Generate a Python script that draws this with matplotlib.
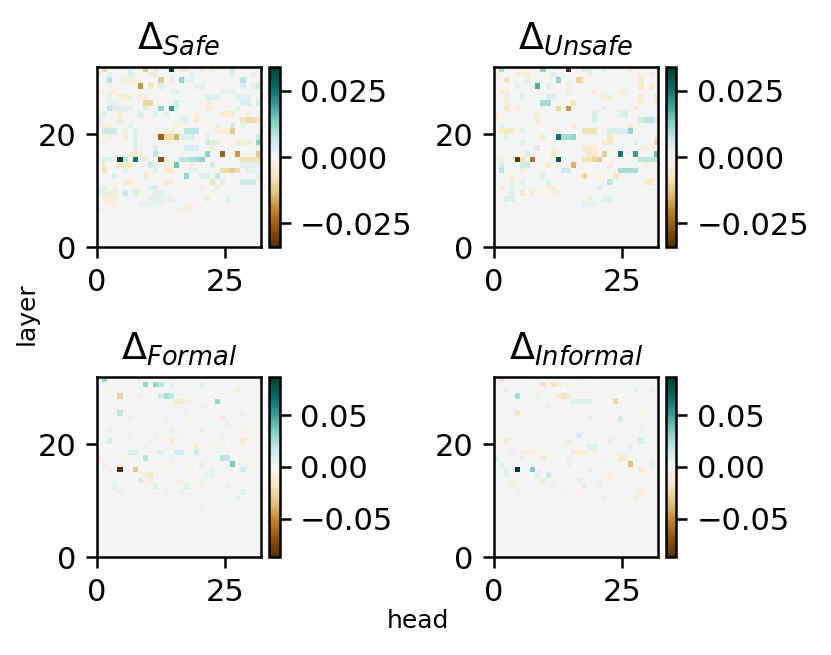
import numpy as np
import matplotlib.pyplot as plt

n_layers = 32
n_heads = 32

# cells: (layer, head, value); everything not listed is ~0
safe_cells = [
    (31, 1, -0.010), (31, 6, 0.003), (31, 9, -0.012), (31, 11, -0.004), (31, 14, 0.034),
    (31, 16, -0.004), (31, 17, -0.004), (31, 20, -0.006), (31, 22, -0.003), (31, 26, 0.006),
    (30, 0, 0.003), (30, 2, 0.003), (30, 6, 0.004), (30, 10, -0.003), (30, 11, -0.003),
    (30, 18, 0.003), (30, 26, 0.003), (30, 30, 0.004),
    (29, 2, 0.008), (29, 5, -0.003), (29, 6, -0.003), (29, 7, -0.003), (29, 12, -0.012),
    (29, 14, -0.004), (29, 16, 0.012), (29, 17, 0.003), (29, 18, 0.003), (29, 28, 0.008),
    (28, 8, -0.018), (28, 10, -0.008), (28, 12, 0.004), (28, 19, 0.003), (28, 20, 0.003),
    (28, 28, 0.004), (28, 30, 0.005), (28, 31, 0.005),
    (27, 0, -0.003), (27, 1, -0.003), (27, 2, -0.003), (27, 3, -0.003), (27, 14, 0.003),
    (27, 15, 0.003), (27, 24, 0.003), (27, 25, 0.003), (27, 26, 0.003),
    (26, 2, 0.003), (26, 4, -0.003), (26, 5, -0.003), (26, 6, -0.003), (26, 8, -0.003),
    (26, 9, -0.003), (26, 21, 0.004), (26, 22, 0.004), (26, 23, 0.004), (26, 27, 0.003),
    (26, 28, 0.003), (26, 29, 0.003),
    (25, 2, 0.003), (25, 3, 0.003), (25, 9, -0.010), (25, 10, -0.010), (25, 15, 0.006),
    (25, 21, -0.004), (25, 28, 0.004), (25, 29, 0.004), (25, 31, 0.004),
    (24, 2, 0.008), (24, 3, 0.003), (24, 4, 0.003), (24, 5, 0.003), (24, 6, 0.003),
    (24, 9, 0.004), (24, 12, 0.012), (24, 14, 0.020), (24, 15, 0.004), (24, 21, -0.003),
    (24, 22, -0.003), (24, 27, 0.003),
    (23, 0, 0.003), (23, 1, 0.003), (23, 4, -0.003), (23, 8, 0.005), (23, 11, 0.004),
    (23, 13, 0.003), (23, 19, -0.004), (23, 24, -0.005), (23, 25, -0.005), (23, 26, -0.005),
    (23, 29, -0.003),
    (22, 0, 0.004), (22, 4, -0.005), (22, 16, 0.003), (22, 17, 0.003), (22, 19, -0.006),
    (22, 28, -0.007), (22, 29, -0.009), (22, 30, -0.009), (22, 31, -0.007),
    (21, 0, -0.003), (21, 1, -0.003), (21, 2, -0.003), (21, 6, 0.003), (21, 15, -0.003),
    (21, 23, -0.003), (21, 26, 0.006), (21, 28, 0.003),
    (20, 1, 0.006), (20, 2, 0.006), (20, 3, 0.006), (20, 5, -0.004), (20, 7, 0.003),
    (20, 13, -0.003), (20, 14, -0.003), (20, 17, 0.008), (20, 18, 0.008), (20, 19, 0.008),
    (20, 23, -0.004), (20, 24, -0.004), (20, 25, -0.004), (20, 26, -0.012),
    (19, 2, -0.004), (19, 5, -0.004), (19, 7, 0.004), (19, 12, -0.025), (19, 13, -0.009),
    (19, 14, -0.009), (19, 15, -0.015), (19, 16, 0.004), (19, 17, 0.004), (19, 18, 0.004),
    (19, 21, 0.003), (19, 31, 0.006),
    (18, 0, -0.003), (18, 1, -0.003), (18, 7, 0.004), (18, 13, -0.003), (18, 14, -0.003),
    (18, 21, 0.006), (18, 22, 0.004), (18, 23, -0.003), (18, 27, -0.004), (18, 28, -0.004),
    (18, 29, -0.004), (18, 31, 0.012),
    (17, 7, 0.004), (17, 8, -0.003), (17, 11, 0.004), (17, 17, 0.004), (17, 18, 0.004),
    (17, 19, 0.004), (17, 22, -0.004),
    (16, 6, -0.004), (16, 7, -0.004), (16, 8, -0.004), (16, 11, 0.008), (16, 21, 0.012),
    (16, 24, -0.025), (16, 27, -0.018), (16, 31, -0.012),
    (15, 0, 0.003), (15, 1, 0.004), (15, 2, 0.004), (15, 4, 0.033), (15, 5, 0.008),
    (15, 7, 0.025), (15, 8, -0.004), (15, 9, -0.004), (15, 12, -0.028), (15, 13, 0.004),
    (15, 16, 0.008), (15, 17, 0.008), (15, 18, 0.009), (15, 19, 0.010), (15, 20, 0.012),
    (15, 28, -0.008), (15, 29, -0.008), (15, 30, -0.008), (15, 31, -0.008),
    (14, 1, -0.006), (14, 4, -0.006), (14, 5, -0.006), (14, 6, -0.006), (14, 10, 0.006),
    (14, 11, 0.003), (14, 13, -0.004), (14, 14, -0.004), (14, 15, 0.015), (14, 18, -0.003),
    (14, 22, 0.005), (14, 28, 0.003), (14, 29, 0.003), (14, 30, 0.003), (14, 31, 0.003),
    (13, 1, -0.008), (13, 5, 0.005), (13, 11, 0.004), (13, 13, -0.006), (13, 14, -0.006),
    (13, 18, 0.003), (13, 19, 0.003), (13, 24, -0.009), (13, 25, -0.010), (13, 26, -0.012),
    (13, 27, -0.009), (13, 29, 0.003), (13, 30, 0.003),
    (12, 3, 0.004), (12, 9, -0.004), (12, 17, 0.012), (12, 20, 0.004), (12, 21, 0.004),
    (12, 23, 0.007), (12, 31, 0.003),
    (11, 5, -0.004), (11, 6, -0.004), (11, 13, -0.004), (11, 14, -0.004), (11, 22, -0.008),
    (11, 24, 0.003), (11, 28, 0.006), (11, 29, 0.006), (11, 30, 0.006),
    (10, 0, 0.003), (10, 1, 0.003), (10, 3, -0.003), (10, 10, 0.004), (10, 11, 0.004),
    (10, 20, -0.003), (10, 23, 0.003),
    (9, 0, 0.003), (9, 1, 0.003), (9, 2, -0.004), (9, 3, -0.004), (9, 5, 0.007),
    (9, 7, 0.005), (9, 8, -0.003), (9, 11, 0.003), (9, 12, 0.003),
    (8, 1, -0.003), (8, 2, -0.003), (8, 3, -0.003), (8, 10, 0.002), (8, 11, 0.002),
    (8, 12, 0.002), (8, 13, 0.002), (8, 14, 0.002), (8, 21, -0.004), (8, 25, 0.003),
    (7, 2, -0.002), (7, 3, -0.002), (7, 8, 0.002), (7, 9, 0.002), (7, 10, 0.002),
    (7, 11, 0.002), (7, 12, 0.002), (7, 17, -0.002), (7, 18, -0.002), (7, 19, -0.002),
    (6, 0, 0.002), (6, 15, -0.002), (6, 16, -0.002), (6, 17, -0.002), (6, 18, -0.002),
]

unsafe_cells = [
    (31, 14, -0.034), (31, 1, 0.010), (31, 9, 0.012), (31, 17, 0.004), (31, 18, 0.004),
    (31, 21, 0.004), (31, 26, -0.006), (31, 6, -0.003),
    (30, 4, -0.004), (30, 5, -0.004), (30, 6, -0.004), (30, 11, 0.004), (30, 18, -0.004),
    (30, 28, -0.003), (30, 30, -0.003), (30, 0, -0.003),
    (29, 2, -0.008), (29, 12, 0.012), (29, 16, -0.010), (29, 28, -0.006), (29, 6, 0.003),
    (29, 17, -0.003),
    (28, 8, 0.018), (28, 4, 0.003), (28, 10, 0.004), (28, 14, -0.003), (28, 28, -0.005),
    (28, 30, -0.004),
    (27, 1, -0.004), (27, 2, -0.003), (27, 19, -0.004), (27, 24, -0.003), (27, 25, -0.003),
    (27, 14, -0.003),
    (26, 2, -0.004), (26, 5, 0.003), (26, 10, 0.004), (26, 11, 0.004), (26, 21, -0.003),
    (26, 22, -0.003), (26, 28, -0.005), (26, 31, -0.005),
    (25, 2, -0.004), (25, 9, 0.010), (25, 10, 0.010), (25, 15, -0.008), (25, 28, -0.003),
    (25, 31, -0.005),
    (24, 2, -0.006), (24, 4, -0.003), (24, 12, -0.010), (24, 14, -0.018), (24, 21, 0.003),
    (24, 27, -0.004),
    (23, 0, -0.003), (23, 8, -0.004), (23, 19, 0.004), (23, 25, 0.005), (23, 24, 0.003),
    (22, 0, -0.004), (22, 8, -0.005), (22, 19, 0.005), (22, 28, 0.005), (22, 29, 0.008),
    (22, 30, 0.008), (22, 31, 0.005),
    (21, 1, 0.003), (21, 15, -0.004), (21, 26, -0.004),
    (20, 1, -0.006), (20, 2, -0.006), (20, 3, -0.006), (20, 17, -0.008), (20, 18, -0.008),
    (20, 19, -0.008), (20, 22, 0.004), (20, 23, 0.004), (20, 24, 0.004), (20, 25, 0.004),
    (20, 26, 0.012), (20, 5, 0.003),
    (19, 9, -0.004), (19, 12, 0.025), (19, 13, 0.010), (19, 14, 0.010), (19, 15, 0.012),
    (19, 22, -0.006), (19, 2, 0.003), (19, 31, -0.004),
    (18, 5, 0.004), (18, 21, -0.006), (18, 22, -0.006), (18, 27, 0.003), (18, 31, -0.010),
    (17, 8, 0.004), (17, 17, -0.005), (17, 18, -0.005), (17, 19, -0.005),
    (17, 28, -0.003), (17, 29, -0.003), (17, 30, -0.003), (17, 11, -0.003),
    (16, 6, 0.003), (16, 11, -0.006), (16, 18, -0.006), (16, 19, -0.006), (16, 21, -0.012),
    (16, 24, 0.025), (16, 27, 0.020), (16, 31, 0.015),
    (15, 4, -0.033), (15, 5, -0.008), (15, 7, -0.022), (15, 12, 0.030),
    (15, 17, -0.008), (15, 18, -0.008), (15, 19, -0.010), (15, 20, -0.012),
    (15, 28, 0.008), (15, 29, 0.008), (15, 30, 0.008), (15, 31, 0.008), (15, 1, -0.003),
    (14, 5, 0.006), (14, 6, 0.006), (14, 10, -0.006), (14, 15, -0.015), (14, 22, -0.004),
    (14, 1, 0.004), (14, 29, -0.003),
    (13, 1, 0.008), (13, 5, -0.003), (13, 13, 0.006), (13, 14, 0.006), (13, 24, 0.010),
    (13, 25, 0.010), (13, 26, 0.010), (13, 27, 0.010),
    (12, 3, -0.003), (12, 9, 0.003), (12, 17, -0.010), (12, 20, -0.003), (12, 23, -0.007),
    (11, 3, -0.003), (11, 5, 0.003), (11, 10, 0.004), (11, 22, 0.008), (11, 29, -0.006),
    (11, 30, -0.006),
    (10, 1, -0.004), (10, 3, 0.003), (10, 10, -0.004), (10, 11, -0.004), (10, 20, 0.003),
    (9, 3, 0.003), (9, 5, -0.007), (9, 7, -0.004), (9, 11, -0.004), (9, 12, -0.004),
    (8, 2, 0.004), (8, 3, 0.004), (8, 18, -0.003), (8, 21, 0.003), (8, 22, 0.003),
    (7, 2, 0.002), (7, 17, 0.002), (7, 18, 0.002), (7, 19, 0.002),
]

formal_cells = [
    (15, 4, -0.087), (15, 7, -0.030), (31, 1, 0.030), (31, 8, -0.004), (31, 16, -0.005),
    (30, 9, 0.030), (30, 11, 0.030), (30, 12, 0.020), (30, 20, 0.006), (30, 14, 0.006),
    (29, 2, -0.005), (29, 27, -0.006), (29, 30, -0.004),
    (28, 4, -0.025), (28, 12, 0.015), (28, 13, 0.025), (28, 14, 0.020), (28, 8, 0.005),
    (27, 15, -0.012), (27, 16, -0.012), (27, 23, 0.030), (27, 17, -0.006),
    (26, 10, -0.004), (26, 20, 0.004), (26, 3, -0.004),
    (25, 4, 0.020), (25, 28, 0.004), (25, 17, 0.004),
    (24, 24, -0.015), (24, 13, 0.004), (24, 18, -0.005), (24, 6, 0.004),
    (23, 11, -0.004), (23, 25, 0.004),
    (22, 20, 0.005), (22, 14, 0.004), (22, 28, -0.004), (22, 2, 0.004),
    (21, 16, -0.005), (21, 6, 0.004), (21, 24, 0.004), (21, 11, 0.004),
    (20, 2, 0.012), (20, 28, -0.012), (20, 14, -0.010), (20, 22, -0.005), (20, 10, 0.004),
    (19, 19, -0.010), (19, 9, 0.004), (19, 24, 0.004), (19, 26, -0.006), (19, 13, 0.004),
    (18, 6, 0.010), (18, 7, 0.010), (18, 12, 0.010), (18, 15, 0.012), (18, 16, 0.012),
    (18, 19, 0.015), (18, 3, -0.004), (18, 25, -0.004),
    (17, 9, 0.020), (17, 24, 0.020), (17, 25, 0.020), (17, 0, -0.010), (17, 5, -0.005),
    (17, 14, 0.004), (17, 21, 0.004),
    (16, 26, 0.035), (16, 1, -0.006), (16, 14, -0.005), (16, 20, 0.005), (16, 30, -0.005),
    (15, 28, 0.015), (15, 2, -0.005), (15, 18, -0.005), (15, 22, 0.004),
    (14, 10, -0.018), (14, 9, -0.008), (14, 8, -0.006), (14, 21, 0.006), (14, 22, 0.006),
    (13, 8, 0.015), (13, 10, -0.008), (13, 16, -0.006), (13, 20, 0.004), (13, 3, 0.004),
    (12, 11, 0.012), (12, 17, 0.012), (12, 3, 0.008), (12, 20, -0.005), (12, 25, 0.004),
    (11, 28, 0.008), (11, 16, 0.005), (11, 4, 0.004), (11, 13, 0.004),
    (10, 27, 0.006), (10, 21, -0.004), (10, 7, 0.003),
    (9, 12, -0.003), (9, 18, 0.003),
    (8, 20, 0.004),
]

informal_cells = [
    (15, 4, 0.087), (15, 7, 0.035), (31, 1, -0.020), (31, 8, 0.004), (31, 16, 0.005),
    (30, 9, -0.020), (30, 11, -0.020), (30, 12, -0.015), (30, 20, -0.006), (30, 14, -0.006),
    (29, 2, 0.005), (29, 27, 0.006), (29, 30, 0.004),
    (28, 4, 0.025), (28, 12, -0.012), (28, 13, -0.020), (28, 14, -0.015), (28, 8, -0.005),
    (27, 15, 0.010), (27, 16, 0.010), (27, 17, 0.010), (27, 18, 0.010), (27, 23, -0.025),
    (26, 10, 0.004), (26, 20, -0.004), (26, 3, 0.004),
    (25, 4, -0.018), (25, 28, -0.004), (25, 17, -0.004),
    (24, 24, 0.015), (24, 13, -0.004), (24, 18, 0.005), (24, 6, -0.004),
    (23, 11, 0.004), (23, 25, -0.004),
    (22, 20, -0.005), (22, 14, -0.004), (22, 28, 0.004), (22, 2, -0.004),
    (21, 16, 0.012), (21, 6, -0.004), (21, 24, -0.004), (21, 11, -0.004),
    (20, 2, -0.010), (20, 28, 0.012), (20, 14, 0.006), (20, 22, 0.005), (20, 10, -0.004),
    (19, 18, 0.010), (19, 19, 0.010), (19, 9, -0.004), (19, 26, 0.006), (19, 13, -0.004),
    (18, 5, -0.008), (18, 6, -0.008), (18, 7, -0.008), (18, 15, -0.012), (18, 16, -0.012),
    (18, 17, -0.012), (18, 19, -0.012), (18, 3, 0.004), (18, 25, 0.004),
    (17, 9, -0.015), (17, 24, -0.015), (17, 25, -0.015), (17, 0, 0.010), (17, 5, 0.005),
    (17, 14, -0.004), (17, 21, -0.004),
    (16, 26, -0.035), (16, 1, 0.006), (16, 14, 0.005), (16, 20, -0.005), (16, 30, 0.005),
    (15, 28, -0.015), (15, 2, 0.005), (15, 18, 0.005), (15, 22, -0.004),
    (14, 10, 0.015), (14, 8, 0.008), (14, 2, 0.008), (14, 21, -0.006), (14, 22, -0.006),
    (13, 9, -0.010), (13, 16, 0.006), (13, 20, -0.004), (13, 3, -0.004),
    (12, 17, 0.008), (12, 11, -0.006), (12, 20, 0.005), (12, 3, -0.006), (12, 25, -0.004),
    (11, 28, -0.008), (11, 16, -0.005), (11, 4, 0.004), (11, 13, -0.004),
    (10, 27, -0.006), (10, 21, 0.004), (10, 7, -0.003),
    (9, 12, 0.003), (9, 18, -0.003),
    (8, 20, -0.004),
]

titles = [r'$\Delta_{Safe}$', r'$\Delta_{Unsafe}$', r'$\Delta_{Formal}$', r'$\Delta_{Informal}$']
limits = [0.0342, 0.0342, 0.0874, 0.0874]
cbar_ticks = [[-0.025, 0.0, 0.025], [-0.025, 0.0, 0.025], [-0.05, 0.0, 0.05], [-0.05, 0.0, 0.05]]


def to_grid(cells):
    grid = np.zeros((n_layers, n_heads))
    for layer, head, val in cells:
        grid[layer, head] = val
    return grid


grids = [to_grid(c) for c in [safe_cells, unsafe_cells, formal_cells, informal_cells]]

W, H = 831, 655
fig = plt.figure(figsize=(W / 200, H / 200), dpi=200)

# pixel boxes (left, top) of each heatmap
lefts = [97, 493.7, 97, 493.7]
tops = [66.7, 66.7, 376.7, 376.7]
ax_w, ax_h = 164, 180.6
cb_gap, cb_w = 8.3, 10.5

for i in range(4):
    l, t = lefts[i], tops[i]
    ax = fig.add_axes([l / W, (H - t - ax_h) / H, ax_w / W, ax_h / H])
    cax = fig.add_axes([(l + ax_w + cb_gap) / W, (H - t - ax_h) / H, cb_w / W, ax_h / H])
    im = ax.imshow(grids[i], cmap='BrBG', vmin=-limits[i], vmax=limits[i],
                   origin='lower', extent=[0, n_heads, 0, n_layers],
                   aspect='auto', interpolation='nearest')
    ax.set_xticks([0, 25])
    ax.set_yticks([0, 20])
    ax.tick_params(labelsize=11, length=3.85, width=0.9)
    for s in ax.spines.values():
        s.set_linewidth(0.9)
    ax.set_title(titles[i], fontsize=13.2, pad=6.6)
    cb = fig.colorbar(im, cax=cax, ticks=cbar_ticks[i])
    cb.ax.tick_params(labelsize=11, length=3.85, width=0.9)
    cb.outline.set_linewidth(0.9)

fig.text(418 / W, (H - 628) / H, 'head', ha='center', va='baseline', fontsize=9)
fig.text(38.3 / W, (H - 314) / H, 'layer', ha='right', va='center', rotation=90, fontsize=9)

plt.savefig('out.png', dpi=200)
